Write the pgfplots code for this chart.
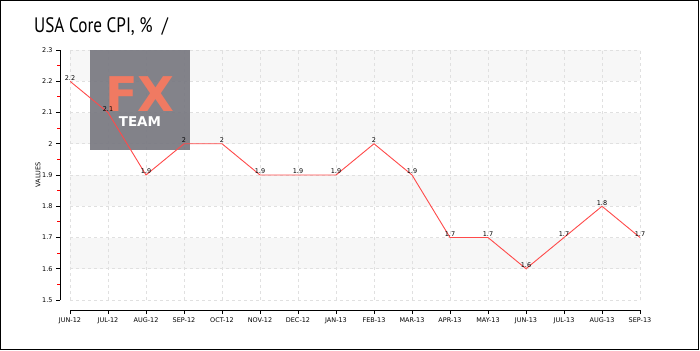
\documentclass[border=0pt]{standalone}
\usepackage{fontspec}
\setmainfont{DejaVu Sans}
\newfontfamily\titlefont[FakeStretch=0.82]{PT Sans}
\usepackage{pgfplots}
\pgfplotsset{compat=1.18}
\definecolor{band}{HTML}{F7F7F7}
\definecolor{gridc}{HTML}{E0E0E0}
\definecolor{linec}{HTML}{FF4A4A}
\definecolor{logo}{HTML}{7B7B83}
\definecolor{fx}{HTML}{F07A62}
\pgfplotsset{common/.style={
  at={(70bp,50bp)}, anchor=south west,
  scale only axis, width=570bp, height=250bp,
  xmin=0, xmax=15, ymin=1.5, ymax=2.3,
  /pgf/number format/assume math mode=true}}
\begin{document}
\begin{tikzpicture}[x=1bp,y=1bp]
\useasboundingbox (0,0) rectangle (700,350);
\draw[line width=1bp] (0.5,0.5) rectangle (698.5,349.5);
\node[anchor=base west, inner sep=0, font=\titlefont\fontsize{21}{24}\selectfont] at (34,318) {USA Core CPI, \% \ /};
\begin{axis}[common, hide axis]
\fill[band] (axis cs:0,2.2) rectangle (axis cs:15,2.3);
\fill[band] (axis cs:0,2.0) rectangle (axis cs:15,2.1);
\fill[band] (axis cs:0,1.8) rectangle (axis cs:15,1.9);
\fill[band] (axis cs:0,1.6) rectangle (axis cs:15,1.7);
\end{axis}
\begin{axis}[common,
  axis x line*=bottom, axis y line*=left,
  axis x line shift=10bp, axis y line shift=10bp,
  axis line style={-, black, line width=0.9bp},
  xtick={0,...,15},
  xticklabels={JUN-12,JUL-12,AUG-12,SEP-12,OCT-12,NOV-12,DEC-12,JAN-13,FEB-13,MAR-13,APR-13,MAY-13,JUN-13,JUL-13,AUG-13,SEP-13},
  ytick={1.5,1.6,...,2.31},
  minor y tick num=1,
  tick align=outside,
  major tick length=4bp, minor tick length=3bp,
  tick style={black, line width=0.8bp},
  minor y tick style={red, line width=0.8bp},
  tick label style={font=\fontsize{6.5}{7}\selectfont},
  grid=major,
  major grid style={gridc, dash pattern=on 3bp off 3bp, line width=0.6bp},
]
\addplot[draw=none, mark=none] coordinates {(0,2.2) (15,1.7)};
\end{axis}
\begin{axis}[common, hide axis,
  nodes near coords,
  every node near coord/.style={anchor=south, inner sep=0.5bp, font=\fontsize{6.5}{7}\selectfont, text=black},
]
\fill[logo, fill opacity=0.94] (axis cs:0.526,2.3) rectangle (axis cs:3.158,1.98);
\node[text=fx, inner sep=0, font=\bfseries\fontsize{48}{48}\selectfont] at (axis cs:1.84,2.158) {FX};
\node[text=white, inner sep=0, font=\bfseries\fontsize{13.5}{14}\selectfont] at (axis cs:1.84,2.071) {TEAM};
\addplot[linec, line width=0.9bp, mark=none] coordinates {
(0,2.2) (1,2.1) (2,1.9) (3,2.0) (4,2.0) (5,1.9) (6,1.9) (7,1.9)
(8,2.0) (9,1.9) (10,1.7) (11,1.7) (12,1.6) (13,1.7) (14,1.8) (15,1.7)};
\end{axis}
\node[rotate=90, inner sep=0, font=\fontsize{6.5}{7}\selectfont] at (38,175) {VALUES};
\end{tikzpicture}
\end{document}
